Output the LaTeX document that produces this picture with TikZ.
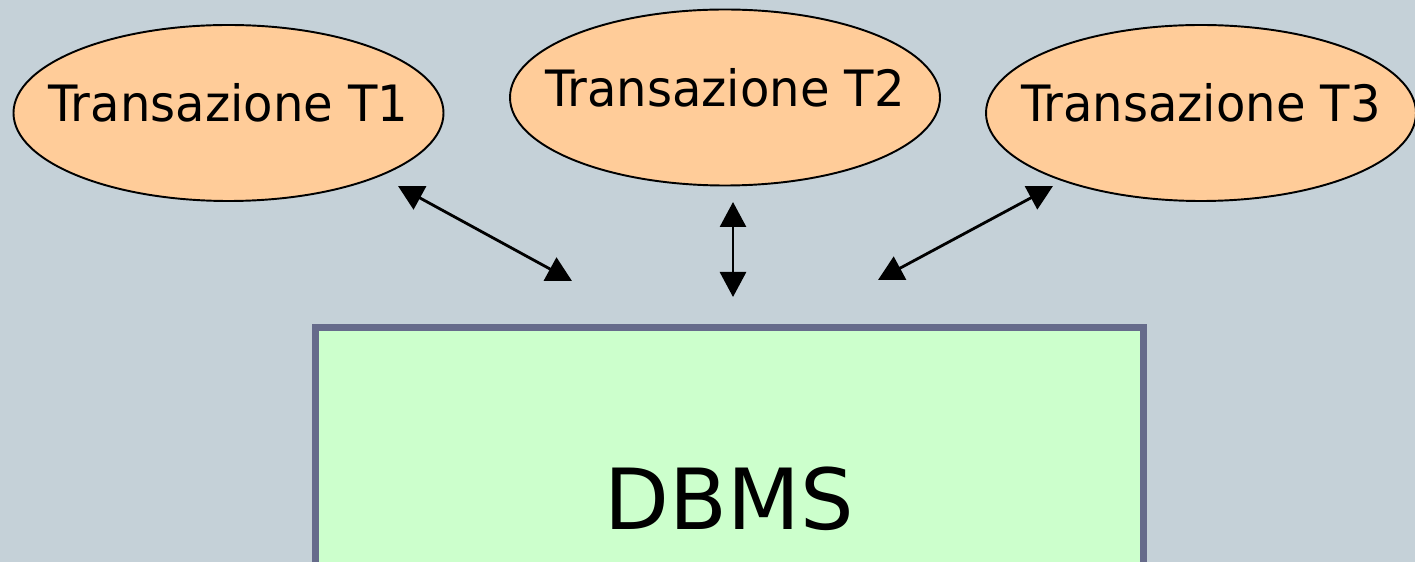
\documentclass[tikz,border=0pt]{standalone}
\usepackage{fontspec}
\setmainfont{DejaVu Sans}
\newfontfamily\txnfont[FakeStretch=0.96]{DejaVu Sans}
\usetikzlibrary{shapes.geometric,arrows.meta}
\definecolor{slidebg}{HTML}{C5D1D8}
\definecolor{txnfill}{HTML}{FFCC99}
\definecolor{dbmsfill}{HTML}{CCFFCC}
\definecolor{dbmsdraw}{HTML}{666B8B}
\begin{document}
\begin{tikzpicture}[
        txn/.style={ellipse, draw=black, fill=txnfill, minimum width=8.6cm, minimum height=3.52cm, inner sep=0pt, line width=1.1pt},
        txntext/.style={font=\txnfont\fontsize{28.5}{34}\selectfont, inner sep=0pt, yshift=0.2cm},
        dbms/.style={rectangle, draw=dbmsdraw, fill=dbmsfill, minimum width=16.56cm, minimum height=6.86cm, line width=0.14cm, font=\fontsize{48}{56}\selectfont},
        link/.style={arrows={Triangle[length=0.5cm, width=0.52cm]-Triangle[length=0.5cm, width=0.52cm]}, line width=1.6pt, black}
    ]
        % Background
        \fill[slidebg] (0,0) rectangle (28.3,-11.24);
        \useasboundingbox (0,0) rectangle (28.3,-11.24);

        % Transactions
        \node[txn, label={[txntext]center:Transazione T1}] (t1) at (4.57,-2.26) {};
        \node[txn, label={[txntext]center:Transazione T2}] (t2) at (14.50,-1.95) {};
        \node[txn, label={[txntext]center:Transazione T3}] (t3) at (24.02,-2.26) {};

        % DBMS
        \node[dbms] (dbms) at (14.59,-9.98) {DBMS};

        % Arrow ends
        \coordinate (t1-end) at (7.96,-3.72);
        \coordinate (t2-end) at (14.66,-4.04);
        \coordinate (t3-end) at (21.06,-3.72);
        \coordinate (d1-end) at (11.44,-5.62);
        \coordinate (d2-end) at (14.66,-5.94);
        \coordinate (d3-end) at (17.56,-5.60);

        % Arrows
        \draw[link] (t1-end) -- (d1-end);
        \draw[link] (t2-end) -- (d2-end);
        \draw[link] (t3-end) -- (d3-end);
    \end{tikzpicture}
\end{document}
